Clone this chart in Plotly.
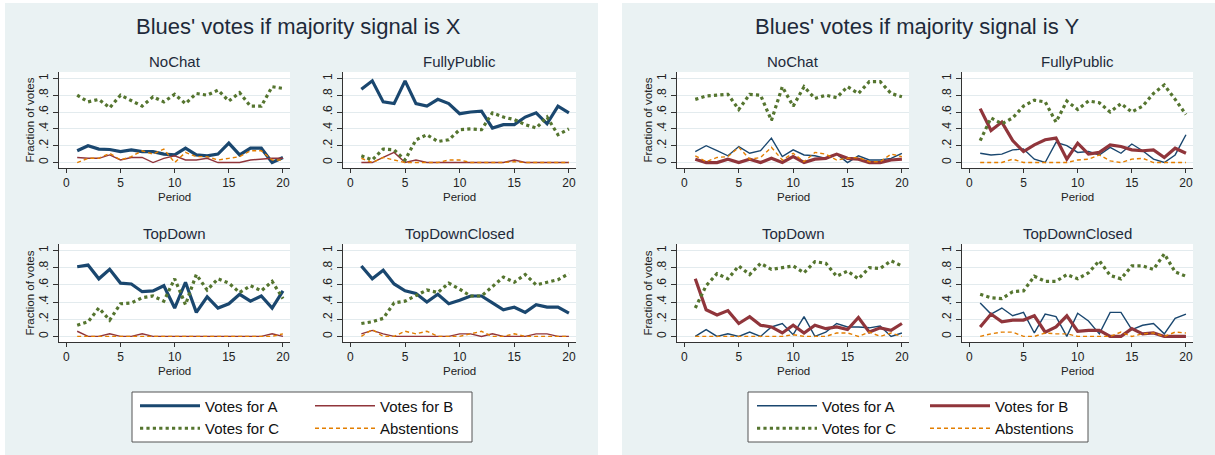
import plotly.graph_objects as go

W, H = 1215, 455
periods = list(range(1, 21))

panel_titles = ["Blues' votes if majority signal is X", "Blues' votes if majority signal is Y"]
treatments = ["NoChat", "FullyPublic", "TopDown", "TopDownClosed"]
series_names = ["Votes for A", "Votes for B", "Votes for C", "Abstentions"]
ytick_vals = [0, 0.2, 0.4, 0.6, 0.8, 1]
ytick_text = ["0", ".2", ".4", ".6", ".8", "1"]
xtick_vals = [0, 5, 10, 15, 20]

# ---- Panel X ----
x_nochat_a = [0.14, 0.20, 0.16, 0.155, 0.13, 0.15, 0.13, 0.13, 0.10, 0.09, 0.17, 0.09, 0.08, 0.10, 0.23, 0.09, 0.17, 0.17, 0.00, 0.06]
x_nochat_b = [0.06, 0.05, 0.05, 0.09, 0.03, 0.06, 0.06, 0.00, 0.05, 0.08, 0.03, 0.03, 0.05, 0.00, 0.00, 0.00, 0.03, 0.04, 0.05, 0.05]
x_nochat_c = [0.80, 0.72, 0.75, 0.65, 0.80, 0.74, 0.67, 0.78, 0.72, 0.81, 0.70, 0.82, 0.80, 0.86, 0.73, 0.83, 0.67, 0.67, 0.90, 0.88]
x_nochat_abs = [0.00, 0.05, 0.05, 0.11, 0.03, 0.07, 0.14, 0.10, 0.16, 0.00, 0.12, 0.07, 0.07, 0.03, 0.05, 0.07, 0.14, 0.14, 0.03, 0.03]

x_public_a = [0.87, 0.97, 0.72, 0.70, 0.97, 0.70, 0.67, 0.75, 0.70, 0.58, 0.60, 0.61, 0.41, 0.45, 0.45, 0.54, 0.59, 0.46, 0.67, 0.59]
x_public_b = [0, 0, 0.06, 0.12, 0, 0.03, 0, 0, 0, 0, 0, 0, 0, 0, 0.03, 0, 0, 0, 0, 0]
x_public_c = [0.08, 0.03, 0.16, 0.15, 0.03, 0.27, 0.33, 0.25, 0.27, 0.39, 0.40, 0.39, 0.59, 0.54, 0.51, 0.45, 0.41, 0.54, 0.33, 0.40]
x_public_abs = [0.05, 0.0, 0.06, 0.03, 0.0, 0.0, 0.0, 0.0, 0.03, 0.03, 0.0, 0.0, 0.0, 0.0, 0.01, 0.0, 0.0, 0.0, 0.0, 0.0]

x_topdown_a = [0.81, 0.83, 0.67, 0.78, 0.62, 0.61, 0.52, 0.53, 0.59, 0.33, 0.63, 0.28, 0.46, 0.33, 0.38, 0.49, 0.41, 0.47, 0.33, 0.53]
x_topdown_b = [0.06, 0, 0, 0.03, 0, 0, 0.03, 0, 0, 0, 0, 0, 0, 0, 0, 0, 0, 0, 0.03, 0]
x_topdown_c = [0.13, 0.17, 0.33, 0.19, 0.38, 0.39, 0.45, 0.47, 0.41, 0.67, 0.37, 0.72, 0.54, 0.67, 0.62, 0.51, 0.59, 0.53, 0.64, 0.44]
x_topdown_abs = [0, 0, 0, 0, 0, 0, 0, 0, 0, 0, 0, 0, 0, 0, 0, 0, 0, 0, 0, 0.03]

x_closed_a = [0.82, 0.67, 0.77, 0.61, 0.53, 0.50, 0.40, 0.49, 0.38, 0.42, 0.47, 0.47, 0.39, 0.31, 0.34, 0.28, 0.37, 0.34, 0.34, 0.27]
x_closed_b = [0.03, 0.07, 0.03, 0, 0, 0, 0, 0, 0, 0.03, 0.03, 0, 0.03, 0, 0, 0, 0.03, 0.03, 0, 0]
x_closed_c = [0.15, 0.17, 0.21, 0.39, 0.41, 0.47, 0.54, 0.51, 0.62, 0.55, 0.47, 0.47, 0.58, 0.69, 0.63, 0.72, 0.60, 0.63, 0.66, 0.73]
x_closed_abs = [0, 0.08, 0, 0, 0.06, 0.03, 0.06, 0, 0, 0, 0.03, 0.06, 0, 0, 0.03, 0, 0, 0, 0, 0]

# ---- Panel Y ----
y_nochat_a = [0.13, 0.20, 0.14, 0.08, 0.19, 0.11, 0.14, 0.29, 0.07, 0.15, 0.09, 0.08, 0.05, 0.10, 0.00, 0.08, 0.03, 0.03, 0.05, 0.11]
y_nochat_b = [0.04, 0.00, 0.00, 0.04, 0.00, 0.04, 0.00, 0.05, 0.00, 0.07, 0.00, 0.04, 0.05, 0.10, 0.05, 0.04, 0.00, 0.00, 0.03, 0.04]
y_nochat_c = [0.75, 0.79, 0.80, 0.81, 0.63, 0.81, 0.80, 0.50, 0.90, 0.67, 0.90, 0.76, 0.80, 0.77, 0.90, 0.82, 0.96, 0.96, 0.82, 0.78]
y_nochat_abs = [0.08, 0.01, 0.06, 0.07, 0.18, 0.04, 0.06, 0.18, 0.03, 0.11, 0.01, 0.12, 0.10, 0.03, 0.05, 0.06, 0.01, 0.01, 0.10, 0.07]

y_public_a = [0.11, 0.09, 0.10, 0.15, 0.16, 0.04, 0.00, 0.24, 0.20, 0.12, 0.13, 0.09, 0.18, 0.11, 0.22, 0.14, 0.04, 0.00, 0.09, 0.33]
y_public_b = [0.64, 0.38, 0.48, 0.26, 0.13, 0.21, 0.27, 0.29, 0.04, 0.23, 0.10, 0.12, 0.21, 0.19, 0.15, 0.14, 0.15, 0.06, 0.17, 0.11]
y_public_c = [0.26, 0.53, 0.46, 0.53, 0.67, 0.74, 0.72, 0.48, 0.73, 0.63, 0.73, 0.71, 0.60, 0.70, 0.60, 0.67, 0.82, 0.92, 0.75, 0.57]
y_public_abs = [0, 0, 0, 0.04, 0, 0, 0, 0, 0, 0.03, 0.04, 0.09, 0.02, 0, 0.04, 0.05, 0, 0, 0, 0]

y_topdown_a = [0, 0.08, 0, 0.03, 0, 0.05, 0, 0.11, 0.15, 0.02, 0.23, 0, 0.05, 0.15, 0.11, 0.11, 0.10, 0.12, 0, 0.04]
y_topdown_b = [0.67, 0.31, 0.25, 0.30, 0.15, 0.23, 0.13, 0.11, 0.04, 0.13, 0.04, 0.13, 0.09, 0.11, 0.08, 0.22, 0.05, 0.10, 0.07, 0.15]
y_topdown_c = [0.33, 0.59, 0.73, 0.67, 0.82, 0.72, 0.85, 0.78, 0.80, 0.82, 0.74, 0.87, 0.85, 0.70, 0.76, 0.67, 0.80, 0.79, 0.88, 0.82]
y_topdown_abs = [0, 0, 0, 0, 0, 0, 0, 0, 0, 0.02, 0, 0, 0, 0.04, 0.04, 0, 0.05, 0, 0.04, 0]

y_closed_a = [0.39, 0.26, 0.33, 0.24, 0.28, 0.04, 0.26, 0.23, 0.00, 0.27, 0.18, 0.03, 0.28, 0.28, 0.08, 0.13, 0.15, 0.03, 0.21, 0.26]
y_closed_b = [0.11, 0.26, 0.17, 0.19, 0.19, 0.24, 0.05, 0.11, 0.24, 0.06, 0.07, 0.07, 0.00, 0.00, 0.09, 0.03, 0.04, 0.00, 0.00, 0.00]
y_closed_c = [0.49, 0.45, 0.44, 0.52, 0.53, 0.70, 0.64, 0.64, 0.72, 0.67, 0.74, 0.88, 0.71, 0.67, 0.82, 0.82, 0.78, 0.96, 0.75, 0.70]
y_closed_abs = [0, 0.03, 0.05, 0.05, 0, 0, 0.04, 0.03, 0.03, 0, 0, 0, 0, 0.05, 0, 0.03, 0.04, 0, 0.05, 0.04]

panel_x = [
    [x_nochat_a, x_nochat_b, x_nochat_c, x_nochat_abs],
    [x_public_a, x_public_b, x_public_c, x_public_abs],
    [x_topdown_a, x_topdown_b, x_topdown_c, x_topdown_abs],
    [x_closed_a, x_closed_b, x_closed_c, x_closed_abs],
]
panel_y = [
    [y_nochat_a, y_nochat_b, y_nochat_c, y_nochat_abs],
    [y_public_a, y_public_b, y_public_c, y_public_abs],
    [y_topdown_a, y_topdown_b, y_topdown_c, y_topdown_abs],
    [y_closed_a, y_closed_b, y_closed_c, y_closed_abs],
]

# ---- styling ----
NAVY = "#1a476f"
MAROON = "#90353b"
GREEN = "#55752f"
ORANGE = "#e37e00"
PANEL_BG = "#eaf2f3"
GRID = "#e3ebee"
TXT = "#1e2a3a"
FONT = "Liberation Sans, Arial, sans-serif"

THICK, THIN = 3.2, 1.4


def styles(panel):
    a_w = THICK if panel == 0 else THIN
    b_w = THIN if panel == 0 else THICK
    return [
        dict(color=NAVY, width=a_w, dash="solid"),
        dict(color=MAROON, width=b_w, dash="solid"),
        dict(color=GREEN, width=3.2, dash="dot"),
        dict(color=ORANGE, width=1.4, dash="4px,3px"),
    ]


# pixel geometry of plot areas
col_px = [(59, 290), (343, 576), (677, 909), (962, 1193)]
row_px = [(72, 168), (244, 342)]


def xd(a, b):
    return [a / W, b / W]


def yd(top, bot):
    return [1 - bot / H, 1 - top / H]


fig = go.Figure()
layout = {}
annotations = []

legend_map = {0: ["legend", "legend2", "legend", "legend2"],
              1: ["legend3", "legend4", "legend3", "legend4"]}

idx = 0
for panel, pdata in enumerate([panel_x, panel_y]):
    st = styles(panel)
    for t, tname in enumerate(treatments):
        idx += 1
        r, c = divmod(t, 2)
        col = col_px[panel * 2 + c]
        row = row_px[r]
        xa = "x" if idx == 1 else f"x{idx}"
        ya = "y" if idx == 1 else f"y{idx}"
        for s, sname in enumerate(series_names):
            fig.add_trace(go.Scatter(
                x=periods, y=pdata[t][s], mode="lines", name=sname,
                line=st[s], xaxis=xa, yaxis=ya,
                showlegend=(t == 0), legend=legend_map[panel][s],
                hoverinfo="x+y+name",
            ))
        xkey = "xaxis" if idx == 1 else f"xaxis{idx}"
        ykey = "yaxis" if idx == 1 else f"yaxis{idx}"
        layout[xkey] = dict(
            domain=xd(*col), anchor=ya, range=[-0.68, 20.65],
            tickvals=xtick_vals, ticks="outside", ticklen=4, tickcolor="#333",
            showline=True, linecolor="#333", linewidth=1, showgrid=False, zeroline=False,
            tickfont=dict(size=12, color="#222", family=FONT),
            fixedrange=True,
        )
        layout[ykey] = dict(
            domain=yd(*row), anchor=xa, range=[-0.065, 1.075],
            tickvals=ytick_vals, ticktext=ytick_text, tickangle=-90,
            ticks="outside", ticklen=5, tickcolor="#333",
            showline=True, linecolor="#333", linewidth=1,
            showgrid=True, gridcolor=GRID, gridwidth=1, zeroline=False,
            tickfont=dict(size=12, color="#222", family=FONT),
            title=dict(text="Fraction of votes" if c == 0 else "",
                       font=dict(size=11.5, color="#222", family=FONT), standoff=0),
            fixedrange=True,
        )
        # subplot title
        annotations.append(dict(
            text=tname, xref="paper", yref="paper",
            x=(col[0] + col[1]) / 2 / W, y=1 - (row[0] - 10) / H,
            xanchor="center", yanchor="middle", showarrow=False,
            font=dict(size=15, color=TXT, family=FONT),
        ))
        # x-axis title
        annotations.append(dict(
            text="Period", xref="paper", yref="paper",
            x=(col[0] + col[1]) / 2 / W, y=1 - (row[1] + 29) / H,
            xanchor="center", yanchor="middle", showarrow=False,
            font=dict(size=11.5, color="#222", family=FONT),
        ))

# main titles
for panel, cx in enumerate([298, 917]):
    annotations.append(dict(
        text=panel_titles[panel], xref="paper", yref="paper",
        x=cx / W, y=1 - 26 / H, xanchor="center", yanchor="middle",
        showarrow=False, font=dict(size=22, color=TXT, family=FONT),
    ))

shapes = [
    # white strips separating the two panels
    dict(type="rect", xref="paper", yref="paper", x0=0, x1=5 / W, y0=0, y1=1,
         fillcolor="white", line=dict(width=0), layer="below"),
    dict(type="rect", xref="paper", yref="paper", x0=598 / W, x1=622 / W, y0=0, y1=1,
         fillcolor="white", line=dict(width=0), layer="below"),
    dict(type="rect", xref="paper", yref="paper", x0=0, x1=1, y0=1 - 3 / H, y1=1,
         fillcolor="white", line=dict(width=0), layer="below"),
    # legend frames
    dict(type="rect", xref="paper", yref="paper", x0=132 / W, x1=472 / W,
         y0=1 - 442 / H, y1=1 - 392 / H, fillcolor="white",
         line=dict(color="#555", width=1), layer="below"),
    dict(type="rect", xref="paper", yref="paper", x0=748 / W, x1=1088 / W,
         y0=1 - 442 / H, y1=1 - 392 / H, fillcolor="white",
         line=dict(color="#555", width=1), layer="below"),
]

leg_common = dict(orientation="v", xanchor="left", yanchor="top",
                  bgcolor="rgba(0,0,0,0)", borderwidth=0, itemwidth=60,
                  font=dict(size=15, color="#111", family=FONT),
                  itemclick=False, itemdoubleclick=False)
legend_x = {"legend": 135, "legend2": 310, "legend3": 752, "legend4": 925}
for key, px in legend_x.items():
    layout[key] = dict(leg_common, x=px / W, y=1 - 389.5 / H)

fig.update_layout(
    width=W, height=H, margin=dict(l=0, r=0, t=0, b=0),
    paper_bgcolor=PANEL_BG, plot_bgcolor="white",
    font=dict(family=FONT, color=TXT),
    annotations=annotations, shapes=shapes,
    hovermode="closest",
    **layout,
)

fig.write_html(
    "out.html",
    config={"displayModeBar": False},
    post_script="document.body.style.margin='0';document.body.style.padding='0';",
)
